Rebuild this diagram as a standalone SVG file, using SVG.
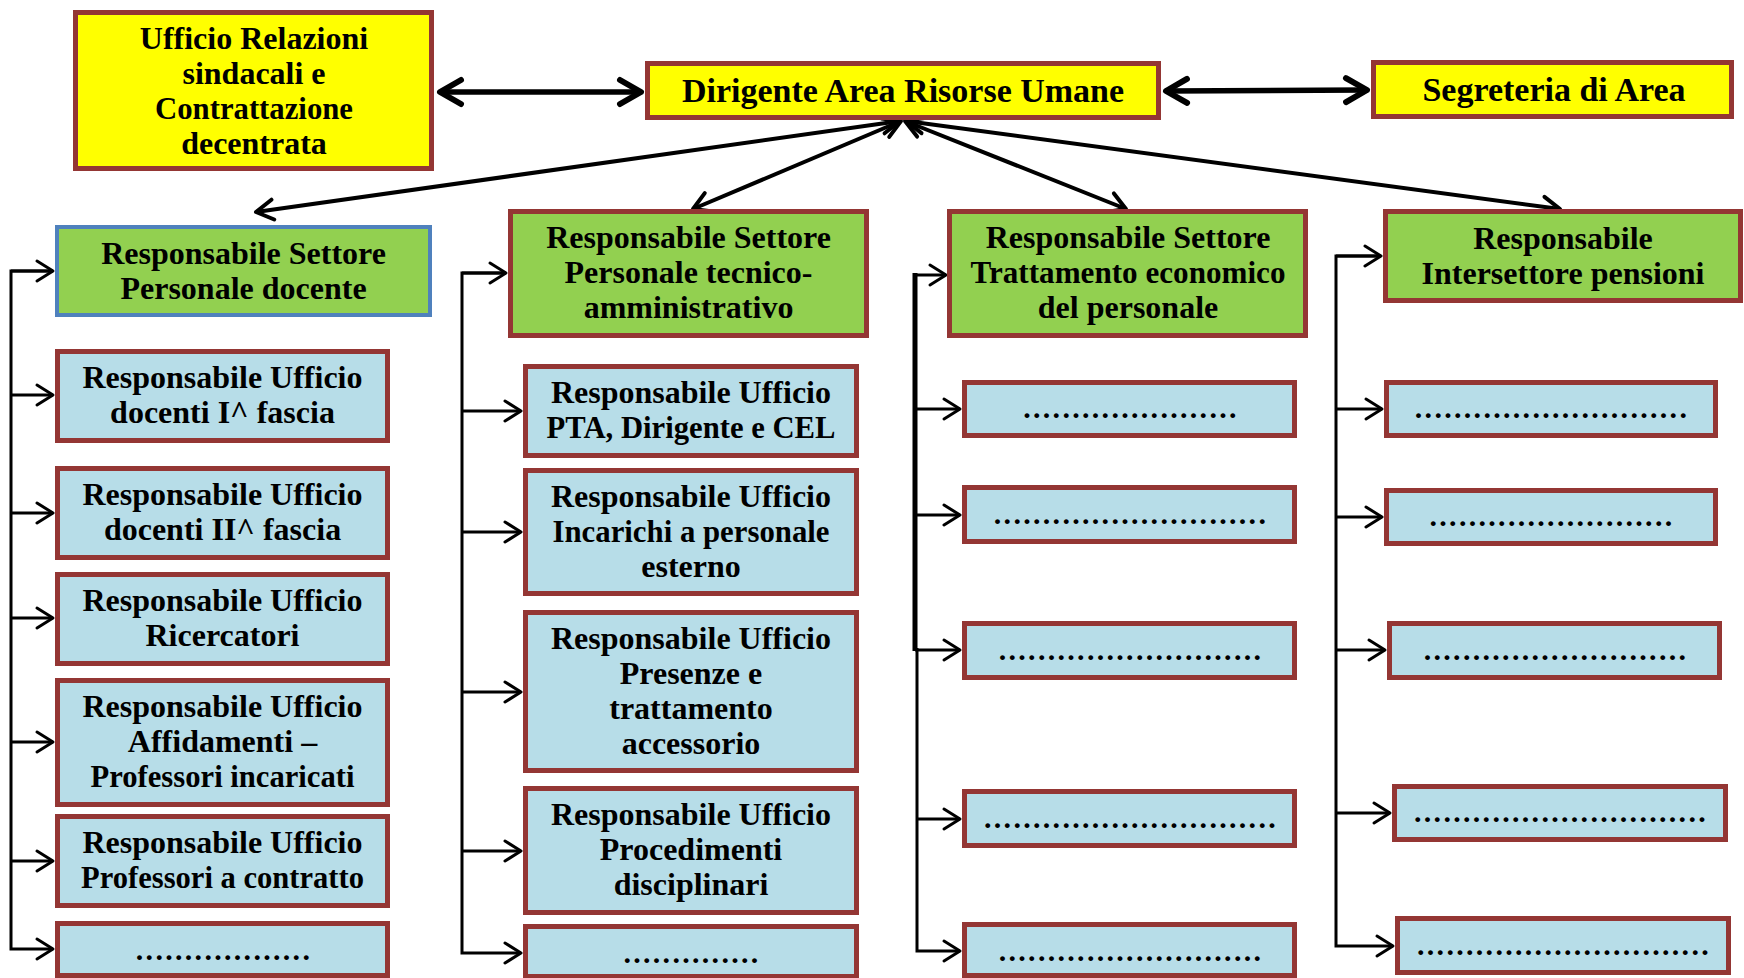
<svg xmlns="http://www.w3.org/2000/svg" width="1744" height="978" viewBox="0 0 1744 978">
<style>
  text { font-family: "Liberation Serif", "Times New Roman", serif; font-weight: bold; font-size: 32px; fill: #000; text-anchor: middle; }
  .big { font-size: 34px; }
  .dots { letter-spacing: 2.3px; font-size: 30px; }
  .yel { fill: #FFFF00; stroke: #943634; stroke-width: 5; }
  .grn { fill: #92D050; stroke: #943634; stroke-width: 5; }
  .grnb { fill: #92D050; stroke: #4F81BD; stroke-width: 4; }
  .blu { fill: #B7DDE8; stroke: #943634; stroke-width: 5; }
  .thick { stroke: #000; stroke-width: 5.5; fill: none; }
  .diag { stroke: #000; stroke-width: 4; fill: none; }
  .br { stroke: #000; stroke-width: 3; fill: none; }
</style>
<defs>
  <marker id="hBig" viewBox="-26 -16 30 32" refX="0" refY="0" markerWidth="30" markerHeight="32" markerUnits="userSpaceOnUse" orient="auto-start-reverse">
    <path d="M-21,-12 L0,0 L-21,12" fill="none" stroke="#000" stroke-width="6" stroke-linejoin="round" stroke-linecap="round"/>
  </marker>
  <marker id="hDiag" viewBox="-22 -14 26 28" refX="0" refY="0" markerWidth="26" markerHeight="28" markerUnits="userSpaceOnUse" orient="auto-start-reverse">
    <path d="M-17,-10 L0,0 L-17,10" fill="none" stroke="#000" stroke-width="4" stroke-linejoin="round" stroke-linecap="round"/>
  </marker>
  <marker id="hBr" viewBox="-22 -14 26 28" refX="0" refY="0" markerWidth="26" markerHeight="28" markerUnits="userSpaceOnUse" orient="auto">
    <path d="M-16,-10 L0,0 L-16,10" fill="none" stroke="#000" stroke-width="3" stroke-linejoin="round" stroke-linecap="round"/>
  </marker>
</defs>
<rect width="1744" height="978" fill="#FFFFFF"/>

<g id="connectors">
  <line class="thick" x1="440" y1="92" x2="641" y2="92" marker-start="url(#hBig)" marker-end="url(#hBig)"/>
  <line class="thick" x1="1166" y1="91" x2="1367" y2="90" marker-start="url(#hBig)" marker-end="url(#hBig)"/>
  <line class="diag" x1="900" y1="121" x2="256" y2="212" marker-start="url(#hDiag)" marker-end="url(#hDiag)"/>
  <line class="diag" x1="901" y1="121" x2="693" y2="209" marker-start="url(#hDiag)" marker-end="url(#hDiag)"/>
  <line class="diag" x1="905" y1="121" x2="1126" y2="209" marker-start="url(#hDiag)" marker-end="url(#hDiag)"/>
  <line class="diag" x1="906" y1="121" x2="1560" y2="209" marker-start="url(#hDiag)" marker-end="url(#hDiag)"/>

  <!-- left bracket -->
  <polyline class="br" points="53,271 11,271 11,949 53,949" marker-end="url(#hBr)"/>
  <line class="br" x1="11" y1="271" x2="53" y2="271" marker-end="url(#hBr)"/>
  <line class="br" x1="11" y1="395" x2="53" y2="395" marker-end="url(#hBr)"/>
  <line class="br" x1="11" y1="513" x2="53" y2="513" marker-end="url(#hBr)"/>
  <line class="br" x1="11" y1="618" x2="53" y2="618" marker-end="url(#hBr)"/>
  <line class="br" x1="11" y1="742" x2="53" y2="742" marker-end="url(#hBr)"/>
  <line class="br" x1="11" y1="861" x2="53" y2="861" marker-end="url(#hBr)"/>

  <!-- PTA bracket -->
  <polyline class="br" points="506,273 462,273 462,953 521,953" marker-end="url(#hBr)"/>
  <line class="br" x1="462" y1="273" x2="506" y2="273" marker-end="url(#hBr)"/>
  <line class="br" x1="462" y1="411" x2="521" y2="411" marker-end="url(#hBr)"/>
  <line class="br" x1="462" y1="532" x2="521" y2="532" marker-end="url(#hBr)"/>
  <line class="br" x1="462" y1="692" x2="521" y2="692" marker-end="url(#hBr)"/>
  <line class="br" x1="462" y1="851" x2="521" y2="851" marker-end="url(#hBr)"/>

  <!-- Trattamento bracket -->
  <line x1="915" y1="273" x2="915" y2="651" stroke="#000" stroke-width="5"/>
  <polyline class="br" points="917,648 917,951 960,951" marker-end="url(#hBr)"/>
  <line class="br" x1="915" y1="275" x2="946" y2="275" marker-end="url(#hBr)"/>
  <line class="br" x1="915" y1="409" x2="960" y2="409" marker-end="url(#hBr)"/>
  <line class="br" x1="915" y1="515" x2="960" y2="515" marker-end="url(#hBr)"/>
  <line class="br" x1="915" y1="650" x2="960" y2="650" marker-end="url(#hBr)"/>
  <line class="br" x1="917" y1="819" x2="960" y2="819" marker-end="url(#hBr)"/>

  <!-- Pensioni bracket -->
  <polyline class="br" points="1381,256 1336,256 1336,946 1393,946" marker-end="url(#hBr)"/>
  <line class="br" x1="1336" y1="256" x2="1381" y2="256" marker-end="url(#hBr)"/>
  <line class="br" x1="1336" y1="409" x2="1382" y2="409" marker-end="url(#hBr)"/>
  <line class="br" x1="1336" y1="517" x2="1382" y2="517" marker-end="url(#hBr)"/>
  <line class="br" x1="1336" y1="650" x2="1385" y2="650" marker-end="url(#hBr)"/>
  <line class="br" x1="1336" y1="813" x2="1390" y2="813" marker-end="url(#hBr)"/>
</g>

<g id="ufficio-relazioni">
  <rect class="yel" x="75.5" y="12.5" width="356" height="156"/>
  <text x="254" y="49">Ufficio Relazioni</text>
  <text x="254" y="84">sindacali e</text>
  <text x="254" y="119" textLength="198" lengthAdjust="spacingAndGlyphs">Contrattazione</text>
  <text x="254" y="154">decentrata</text>
</g>
<g id="dirigente">
  <rect class="yel" x="647.5" y="63.5" width="511" height="54"/>
  <text class="big" x="903" y="102">Dirigente Area Risorse Umane</text>
</g>
<g id="segreteria">
  <rect class="yel" x="1373.5" y="62.5" width="358" height="54"/>
  <text class="big" x="1554" y="101">Segreteria di Area</text>
</g>

<g id="settore-docente">
  <rect class="grnb" x="57" y="227" width="373" height="88"/>
  <text x="243.5" y="264">Responsabile Settore</text>
  <text x="243.5" y="299">Personale docente</text>
</g>
<g id="settore-pta">
  <rect class="grn" x="510.5" y="211.5" width="356" height="124"/>
  <text x="688.5" y="248">Responsabile Settore</text>
  <text x="688.5" y="283">Personale tecnico-</text>
  <text x="688.5" y="318">amministrativo</text>
</g>
<g id="settore-trattamento">
  <rect class="grn" x="949.5" y="211.5" width="356" height="124"/>
  <text x="1128" y="248">Responsabile Settore</text>
  <text x="1128" y="283" textLength="315" lengthAdjust="spacingAndGlyphs">Trattamento economico</text>
  <text x="1128" y="318">del personale</text>
</g>
<g id="settore-pensioni">
  <rect class="grn" x="1385.5" y="211.5" width="355" height="89"/>
  <text x="1563" y="249">Responsabile</text>
  <text x="1563" y="284">Intersettore pensioni</text>
</g>

<!-- Docente column -->
<g id="uff-docenti-1">
  <rect class="blu" x="57.5" y="351.5" width="330" height="89"/>
  <text x="222.5" y="388">Responsabile Ufficio</text>
  <text x="222.5" y="423">docenti I^ fascia</text>
</g>
<g id="uff-docenti-2">
  <rect class="blu" x="57.5" y="468.5" width="330" height="89"/>
  <text x="222.5" y="505">Responsabile Ufficio</text>
  <text x="222.5" y="540">docenti II^ fascia</text>
</g>
<g id="uff-ricercatori">
  <rect class="blu" x="57.5" y="574.5" width="330" height="89"/>
  <text x="222.5" y="611">Responsabile Ufficio</text>
  <text x="222.5" y="646">Ricercatori</text>
</g>
<g id="uff-affidamenti">
  <rect class="blu" x="57.5" y="680.5" width="330" height="124"/>
  <text x="222.5" y="717">Responsabile Ufficio</text>
  <text x="222.5" y="752">Affidamenti –</text>
  <text x="222.5" y="787" textLength="264" lengthAdjust="spacingAndGlyphs">Professori incaricati</text>
</g>
<g id="uff-contratto">
  <rect class="blu" x="57.5" y="816.5" width="330" height="89"/>
  <text x="222.5" y="853">Responsabile Ufficio</text>
  <text x="222.5" y="888" textLength="283" lengthAdjust="spacingAndGlyphs">Professori a contratto</text>
</g>
<g id="uff-docenti-altro">
  <rect class="blu" x="57.5" y="923.5" width="330" height="52"/>
  <text class="dots" x="224" y="960">..................</text>
</g>

<!-- PTA column -->
<g id="uff-pta">
  <rect class="blu" x="525.5" y="366.5" width="331" height="89"/>
  <text x="691" y="403">Responsabile Ufficio</text>
  <text x="691" y="438" textLength="289" lengthAdjust="spacingAndGlyphs">PTA, Dirigente e CEL</text>
</g>
<g id="uff-incarichi">
  <rect class="blu" x="525.5" y="470.5" width="331" height="123"/>
  <text x="691" y="507">Responsabile Ufficio</text>
  <text x="691" y="542" textLength="277" lengthAdjust="spacingAndGlyphs">Incarichi a personale</text>
  <text x="691" y="577">esterno</text>
</g>
<g id="uff-presenze">
  <rect class="blu" x="525.5" y="612.5" width="331" height="158"/>
  <text x="691" y="649">Responsabile Ufficio</text>
  <text x="691" y="684">Presenze e</text>
  <text x="691" y="719">trattamento</text>
  <text x="691" y="754">accessorio</text>
</g>
<g id="uff-disciplinari">
  <rect class="blu" x="525.5" y="788.5" width="331" height="124"/>
  <text x="691" y="825">Responsabile Ufficio</text>
  <text x="691" y="860">Procedimenti</text>
  <text x="691" y="895">disciplinari</text>
</g>
<g id="uff-pta-altro">
  <rect class="blu" x="525.5" y="926.5" width="331" height="50"/>
  <text class="dots" x="692" y="963">..............</text>
</g>

<!-- Trattamento column -->
<g id="uff-tratt-1">
  <rect class="blu" x="964.5" y="382.5" width="330" height="53"/>
  <text class="dots" x="1131" y="418">......................</text>
</g>
<g id="uff-tratt-2">
  <rect class="blu" x="964.5" y="487.5" width="330" height="54"/>
  <text class="dots" x="1131" y="524">............................</text>
</g>
<g id="uff-tratt-3">
  <rect class="blu" x="964.5" y="623.5" width="330" height="54"/>
  <text class="dots" x="1131" y="660">...........................</text>
</g>
<g id="uff-tratt-4">
  <rect class="blu" x="964.5" y="791.5" width="330" height="54"/>
  <text class="dots" x="1131" y="828">..............................</text>
</g>
<g id="uff-tratt-5">
  <rect class="blu" x="964.5" y="924.5" width="330" height="51"/>
  <text class="dots" x="1131" y="961">...........................</text>
</g>

<!-- Pensioni column -->
<g id="uff-pens-1">
  <rect class="blu" x="1386.5" y="382.5" width="329" height="53"/>
  <text class="dots" x="1552" y="418">............................</text>
</g>
<g id="uff-pens-2">
  <rect class="blu" x="1386.5" y="490.5" width="329" height="53"/>
  <text class="dots" x="1552" y="526">.........................</text>
</g>
<g id="uff-pens-3">
  <rect class="blu" x="1389.5" y="623.5" width="330" height="54"/>
  <text class="dots" x="1556" y="660">...........................</text>
</g>
<g id="uff-pens-4">
  <rect class="blu" x="1394.5" y="786.5" width="331" height="53"/>
  <text class="dots" x="1561" y="822">..............................</text>
</g>
<g id="uff-pens-5">
  <rect class="blu" x="1397.5" y="918.5" width="331" height="54"/>
  <text class="dots" x="1564" y="955">..............................</text>
</g>
</svg>
